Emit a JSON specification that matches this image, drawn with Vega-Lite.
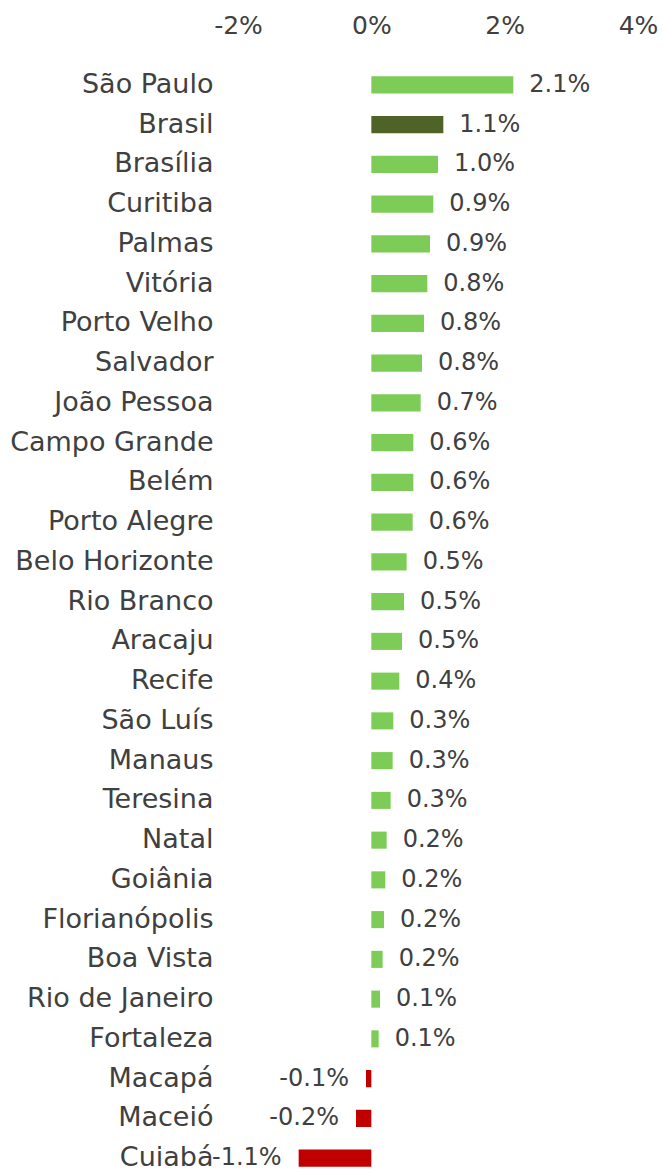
{
  "$schema": "https://vega.github.io/schema/vega-lite/v6.json",
  "width": 400,
  "height": 1107,
  "autosize": {"type": "none"},
  "padding": {"left": 238, "top": 65, "right": 25, "bottom": 0},
  "background": "white",
  "config": {
    "view": {"stroke": null},
    "font": "DejaVu Sans",
    "locale": {"number": {"decimal": ".", "thousands": ",", "grouping": [3], "currency": ["$", ""], "minus": "-"}}
  },
  "data": {
    "values": [
      {"city": "São Paulo", "value": 0.0213, "group": "cidade"},
      {"city": "Brasil", "value": 0.0108, "group": "brasil"},
      {"city": "Brasília", "value": 0.0100, "group": "cidade"},
      {"city": "Curitiba", "value": 0.0093, "group": "cidade"},
      {"city": "Palmas", "value": 0.0088, "group": "cidade"},
      {"city": "Vitória", "value": 0.0084, "group": "cidade"},
      {"city": "Porto Velho", "value": 0.0079, "group": "cidade"},
      {"city": "Salvador", "value": 0.0076, "group": "cidade"},
      {"city": "João Pessoa", "value": 0.0074, "group": "cidade"},
      {"city": "Campo Grande", "value": 0.0063, "group": "cidade"},
      {"city": "Belém", "value": 0.0063, "group": "cidade"},
      {"city": "Porto Alegre", "value": 0.0062, "group": "cidade"},
      {"city": "Belo Horizonte", "value": 0.0053, "group": "cidade"},
      {"city": "Rio Branco", "value": 0.0049, "group": "cidade"},
      {"city": "Aracaju", "value": 0.0046, "group": "cidade"},
      {"city": "Recife", "value": 0.0042, "group": "cidade"},
      {"city": "São Luís", "value": 0.0033, "group": "cidade"},
      {"city": "Manaus", "value": 0.0032, "group": "cidade"},
      {"city": "Teresina", "value": 0.0029, "group": "cidade"},
      {"city": "Natal", "value": 0.0023, "group": "cidade"},
      {"city": "Goiânia", "value": 0.0021, "group": "cidade"},
      {"city": "Florianópolis", "value": 0.0019, "group": "cidade"},
      {"city": "Boa Vista", "value": 0.0017, "group": "cidade"},
      {"city": "Rio de Janeiro", "value": 0.0013, "group": "cidade"},
      {"city": "Fortaleza", "value": 0.0011, "group": "cidade"},
      {"city": "Macapá", "value": -0.0008, "group": "negativo"},
      {"city": "Maceió", "value": -0.0023, "group": "negativo"},
      {"city": "Cuiabá", "value": -0.0109, "group": "negativo"}
    ]
  },
  "encoding": {
    "y": {
      "field": "city",
      "type": "nominal",
      "sort": null,
      "scale": {"paddingInner": 0.57, "paddingOuter": 0.285, "range": [0, 1113]},
      "axis": {
        "title": null,
        "domain": false,
        "ticks": false,
        "labelPadding": 25,
        "labelFontSize": 27,
        "labelLimit": 400,
        "labelColor": "#404040",
        "labelFont": "DejaVu Sans"
      }
    }
  },
  "layer": [
    {
      "mark": {"type": "bar"},
      "encoding": {
        "x": {
          "field": "value",
          "type": "quantitative",
          "scale": {"domain": [-0.02, 0.04], "nice": false, "zero": false},
          "axis": {
            "orient": "top",
            "title": null,
            "values": [-0.02, 0, 0.02, 0.04],
            "format": ".0%",
            "grid": false,
            "domain": false,
            "ticks": false,
            "labelFlush": false,
            "labelPadding": 27,
            "labelFontSize": 25,
            "labelColor": "#404040",
            "labelFont": "DejaVu Sans"
          }
        },
        "color": {
          "field": "group",
          "type": "nominal",
          "scale": {"domain": ["cidade", "brasil", "negativo"], "range": ["#7ECC58", "#4F6228", "#C00000"]},
          "legend": null
        }
      }
    },
    {
      "mark": {"type": "rule", "color": "#A6A6A6", "strokeWidth": 2},
      "encoding": {"x": {"datum": 0, "type": "quantitative"}}
    },
    {
      "transform": [{"filter": "datum.value >= 0"}],
      "mark": {"type": "text", "align": "left", "baseline": "middle", "dx": 16, "fontSize": 24, "color": "#404040"},
      "encoding": {
        "x": {"field": "value", "type": "quantitative"},
        "text": {"field": "value", "type": "quantitative", "format": ".1%"}
      }
    },
    {
      "transform": [{"filter": "datum.value < 0"}],
      "mark": {"type": "text", "align": "right", "baseline": "middle", "dx": -17, "fontSize": 24, "color": "#404040"},
      "encoding": {
        "x": {"field": "value", "type": "quantitative"},
        "text": {"field": "value", "type": "quantitative", "format": ".1%"}
      }
    }
  ]
}
